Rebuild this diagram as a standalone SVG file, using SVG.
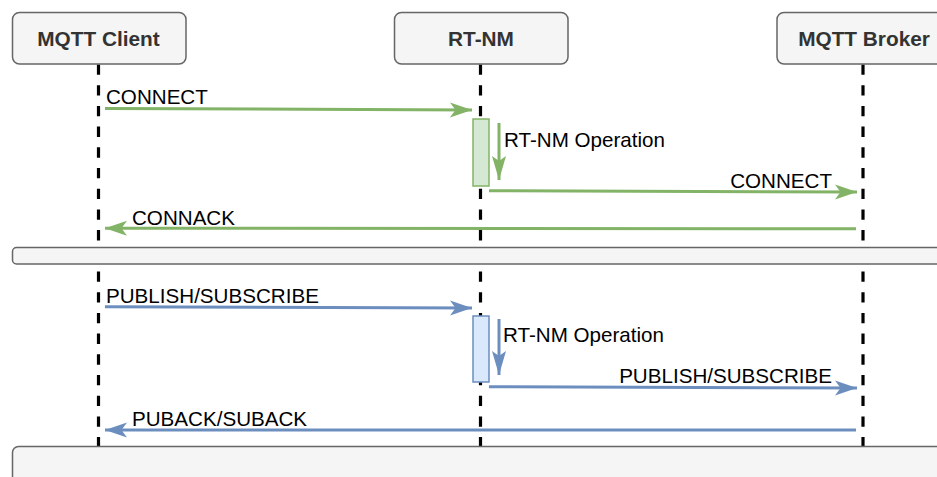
<svg xmlns="http://www.w3.org/2000/svg" width="937" height="477" viewBox="0 0 937 477">
  <style>
    .actor { fill: #f5f5f5; stroke: #666666; stroke-width: 1.5; }
    .actor-label { font-family: "Liberation Sans", Arial, sans-serif; font-size: 20.8px; font-weight: bold; fill: #333333; text-anchor: middle; }
    .lifeline { fill: none; stroke: #000000; stroke-width: 3.2; stroke-dasharray: 10.35 10.35; }
    .bar { fill: #f5f5f5; stroke: #666666; stroke-width: 1.5; }
    .msg { font-family: "Liberation Sans", Arial, sans-serif; font-size: 20.6px; fill: #000000; }
    .green { fill: none; stroke: #82b366; stroke-width: 3; }
    .blue { fill: none; stroke: #6c8ebf; stroke-width: 3; }
    .act-green { fill: #d5e8d4; stroke: #82b366; stroke-width: 1.5; }
    .act-blue { fill: #dae8fc; stroke: #6c8ebf; stroke-width: 1.5; }
  </style>
  <defs>
    <marker id="arrowGreen" markerUnits="userSpaceOnUse" markerWidth="23" markerHeight="16" refX="22" refY="7.5" orient="auto">
      <path d="M0,0 L22,7.5 L0,15 L5.5,7.5 Z" fill="#82b366"/>
    </marker>
    <marker id="arrowBlue" markerUnits="userSpaceOnUse" markerWidth="23" markerHeight="16" refX="22" refY="7.5" orient="auto">
      <path d="M0,0 L22,7.5 L0,15 L5.5,7.5 Z" fill="#6c8ebf"/>
    </marker>
    <marker id="selfGreen" markerUnits="userSpaceOnUse" markerWidth="25" markerHeight="15" refX="24" refY="7" orient="auto">
      <path d="M0,0 L24,7 L0,14 L5,7 Z" fill="#82b366"/>
    </marker>
    <marker id="selfBlue" markerUnits="userSpaceOnUse" markerWidth="25" markerHeight="15" refX="24" refY="7" orient="auto">
      <path d="M0,0 L24,7 L0,14 L5,7 Z" fill="#6c8ebf"/>
    </marker>
  </defs>

  <!-- lifelines -->
  <g id="lifelines">
    <line class="lifeline" x1="98.5" y1="64.5" x2="98.5" y2="446"/>
    <line class="lifeline" x1="480.5" y1="64.5" x2="480.5" y2="446"/>
    <line class="lifeline" x1="863" y1="64.5" x2="863" y2="446"/>
  </g>

  <!-- participants -->
  <g id="mqtt-client">
    <rect class="actor" x="12.5" y="12.5" width="173.5" height="51.5" rx="7"/>
    <text class="actor-label" x="98.5" y="46">MQTT Client</text>
  </g>
  <g id="rt-nm">
    <rect class="actor" x="394.5" y="12.5" width="173.5" height="51.5" rx="7"/>
    <text class="actor-label" x="481" y="46">RT-NM</text>
  </g>
  <g id="mqtt-broker">
    <rect class="actor" x="777" y="12.5" width="174" height="51.5" rx="7"/>
    <text class="actor-label" x="864" y="46">MQTT Broker</text>
  </g>

  <!-- activation bars -->
  <g id="activation-connect">
    <rect class="act-green" x="473" y="119" width="16" height="67"/>
  </g>
  <g id="activation-publish">
    <rect class="act-blue" x="473" y="316" width="16" height="66"/>
  </g>

  <!-- section separators -->
  <g id="separator-1">
    <rect class="bar" x="12.5" y="247.5" width="940" height="16.5" rx="4"/>
  </g>
  <g id="separator-2">
    <rect class="bar" x="12.5" y="446.5" width="940" height="60" rx="6"/>
  </g>

  <!-- messages -->
  <g id="connectors">
    <line class="green" x1="105" y1="108.5" x2="472" y2="110" marker-end="url(#arrowGreen)"/>
    <line class="green" x1="499" y1="123" x2="499" y2="180" marker-end="url(#selfGreen)"/>
    <line class="green" x1="489" y1="190.7" x2="857" y2="192" marker-end="url(#arrowGreen)"/>
    <line class="green" x1="856" y1="228.7" x2="105" y2="228.2" marker-end="url(#arrowGreen)"/>

    <line class="blue" x1="105" y1="306.7" x2="472" y2="308" marker-end="url(#arrowBlue)"/>
    <line class="blue" x1="499" y1="319" x2="499" y2="375" marker-end="url(#selfBlue)"/>
    <line class="blue" x1="489" y1="386.7" x2="857" y2="388" marker-end="url(#arrowBlue)"/>
    <line class="blue" x1="856" y1="430" x2="105" y2="430" marker-end="url(#arrowBlue)"/>
  </g>

  <!-- message labels -->
  <g id="labels">
    <text class="msg" x="106" y="103.5">CONNECT</text>
    <text class="msg" x="504" y="147">RT-NM Operation</text>
    <text class="msg" x="832" y="187.5" text-anchor="end">CONNECT</text>
    <text class="msg" x="132" y="225">CONNACK</text>
    <text class="msg" x="106" y="302.5">PUBLISH/SUBSCRIBE</text>
    <text class="msg" x="503" y="342">RT-NM Operation</text>
    <text class="msg" x="832" y="382.5" text-anchor="end">PUBLISH/SUBSCRIBE</text>
    <text class="msg" x="132" y="426">PUBACK/SUBACK</text>
  </g>
</svg>
